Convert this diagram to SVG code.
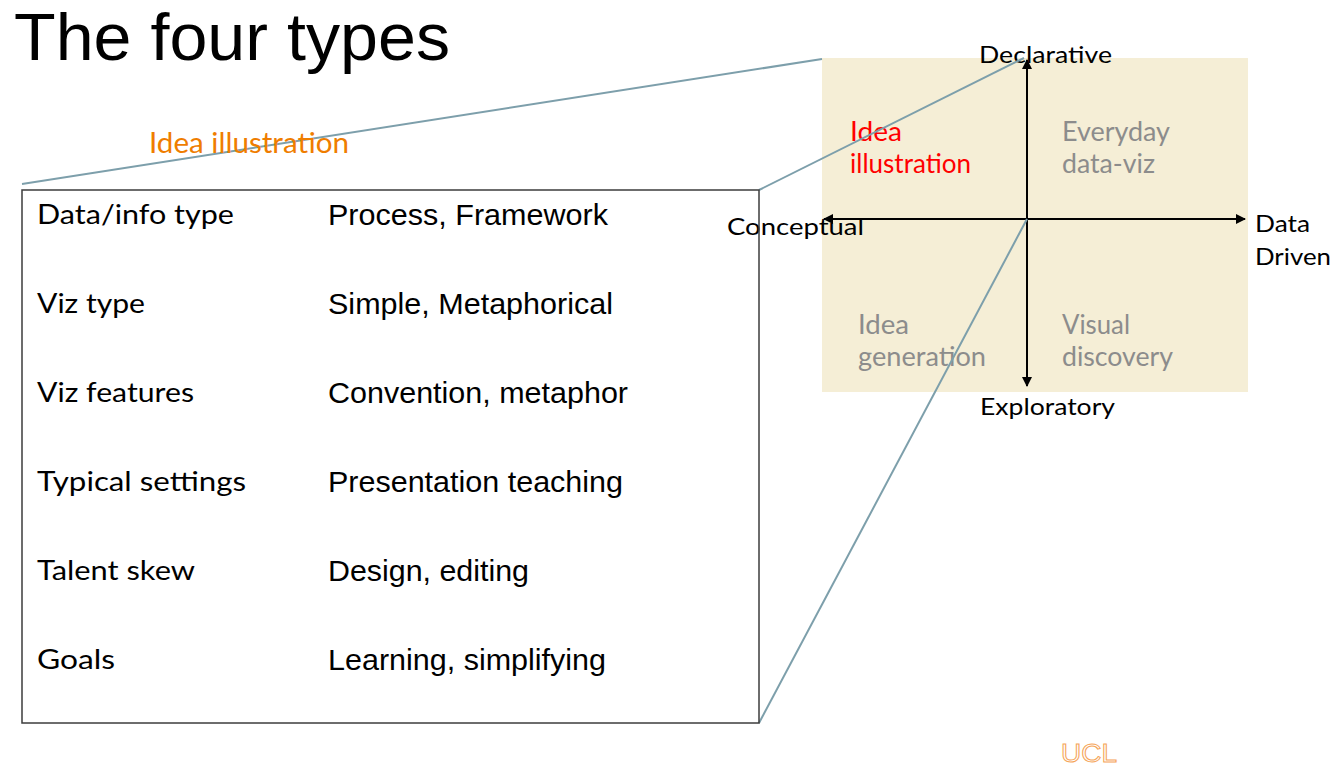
<svg xmlns="http://www.w3.org/2000/svg" width="1334" height="768" viewBox="0 0 1334 768">
<style>
.title{font-family:"Liberation Sans",Arial,sans-serif;font-size:66px;fill:#000}
.lab{font-family:Lato,"Noto Sans",sans-serif;font-size:27px;fill:#000}
.val{font-family:"Liberation Sans",Arial,sans-serif;font-size:29.5px;fill:#000}
.ax{font-family:Lato,"Noto Sans",sans-serif;font-size:24px;fill:#000}
.q{font-family:Lato,"Noto Sans",sans-serif;font-size:26px;fill:#8c8c8c}
.qr{fill:#ff0000}
.teal{stroke:#7d9fab;stroke-width:2;fill:none}
.axis{stroke:#000;stroke-width:2;fill:none}
</style>
<defs>
<marker id="ah" viewBox="0 0 10 10" refX="9" refY="5" markerWidth="5" markerHeight="5" orient="auto-start-reverse" markerUnits="strokeWidth">
<path d="M0,0 L10,5 L0,10 z" fill="#000"/>
</marker>
</defs>
<rect width="1334" height="768" fill="#fff"/>
<text class="title" x="14" y="60" textLength="436" lengthAdjust="spacingAndGlyphs">The four types</text>
<g id="quadrant">
<rect x="822" y="58" width="426" height="334" fill="#f5eed6"/>
<line class="axis" x1="1027" y1="219" x2="1027" y2="60" marker-end="url(#ah)"/>
<line class="axis" x1="1027" y1="219" x2="1027" y2="386" marker-end="url(#ah)"/>
<line class="axis" x1="1027" y1="219" x2="824" y2="219" marker-end="url(#ah)"/>
<line class="axis" x1="1027" y1="219" x2="1245" y2="219" marker-end="url(#ah)"/>
<text class="q qr" x="850" y="141" textLength="52" lengthAdjust="spacingAndGlyphs">Idea</text>
<text class="q qr" x="850" y="173" textLength="121" lengthAdjust="spacingAndGlyphs">illustration</text>
<text class="q" x="1062" y="141" textLength="108" lengthAdjust="spacingAndGlyphs">Everyday</text>
<text class="q" x="1062" y="173" textLength="93" lengthAdjust="spacingAndGlyphs">data-viz</text>
<text class="q" x="858" y="334" textLength="51" lengthAdjust="spacingAndGlyphs">Idea</text>
<text class="q" x="858" y="366" textLength="128" lengthAdjust="spacingAndGlyphs">generation</text>
<text class="q" x="1062" y="334" textLength="68" lengthAdjust="spacingAndGlyphs">Visual</text>
<text class="q" x="1062" y="366" textLength="111" lengthAdjust="spacingAndGlyphs">discovery</text>
<text class="ax" x="979" y="63" textLength="133" lengthAdjust="spacingAndGlyphs">Declarative</text>
<text class="ax" x="727" y="235" textLength="137" lengthAdjust="spacingAndGlyphs">Conceptual</text>
<text class="ax" x="1255" y="232" textLength="55" lengthAdjust="spacingAndGlyphs">Data</text>
<text class="ax" x="1255" y="265" textLength="76" lengthAdjust="spacingAndGlyphs">Driven</text>
<text class="ax" x="980" y="415" textLength="135" lengthAdjust="spacingAndGlyphs">Exploratory</text>
</g>
<g id="connectors">
<line class="teal" x1="22" y1="184" x2="822" y2="59"/>
<line class="teal" x1="759" y1="190" x2="1024" y2="58"/>
<line class="teal" x1="759" y1="723" x2="1027" y2="219"/>
</g>
<g id="heading">
<text x="149" y="153" font-family="Lato,'Noto Sans',sans-serif" font-size="28" fill="#ef7d00" textLength="200" lengthAdjust="spacingAndGlyphs">Idea illustration</text>
</g>
<g id="table">
<rect x="22" y="190" width="737" height="533" fill="none" stroke="#3c3c3c" stroke-width="1.5"/>
<text class="lab" x="37" y="224" textLength="197" lengthAdjust="spacingAndGlyphs">Data/info type</text>
<text class="val" x="328" y="225" textLength="280" lengthAdjust="spacingAndGlyphs">Process, Framework</text>
<text class="lab" x="37" y="313" textLength="108" lengthAdjust="spacingAndGlyphs">Viz type</text>
<text class="val" x="328" y="314" textLength="285" lengthAdjust="spacingAndGlyphs">Simple, Metaphorical</text>
<text class="lab" x="37" y="402" textLength="157" lengthAdjust="spacingAndGlyphs">Viz features</text>
<text class="val" x="328" y="403" textLength="300" lengthAdjust="spacingAndGlyphs">Convention, metaphor</text>
<text class="lab" x="37" y="491" textLength="209" lengthAdjust="spacingAndGlyphs">Typical settings</text>
<text class="val" x="328" y="492" textLength="295" lengthAdjust="spacingAndGlyphs">Presentation teaching</text>
<text class="lab" x="37" y="580" textLength="158" lengthAdjust="spacingAndGlyphs">Talent skew</text>
<text class="val" x="328" y="581" textLength="201" lengthAdjust="spacingAndGlyphs">Design, editing</text>
<text class="lab" x="37" y="669" textLength="78" lengthAdjust="spacingAndGlyphs">Goals</text>
<text class="val" x="328" y="670" textLength="278" lengthAdjust="spacingAndGlyphs">Learning, simplifying</text>
</g>
<g id="logo">
<text x="1061" y="762" font-family="'Liberation Sans',Arial,sans-serif" font-size="26" fill="none" stroke="#f5a55a" stroke-width="1" textLength="56" lengthAdjust="spacingAndGlyphs">UCL</text>
</g>
</svg>
